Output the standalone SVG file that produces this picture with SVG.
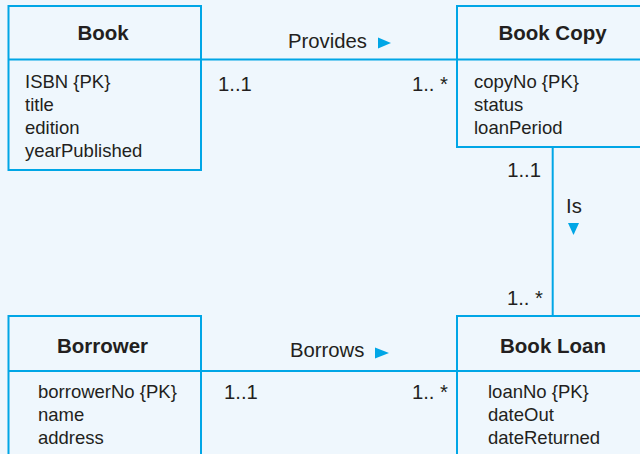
<svg xmlns="http://www.w3.org/2000/svg" width="640" height="454" viewBox="0 0 640 454">
<style>
.box{fill:#EFF7FD;stroke:#00A6E6;stroke-width:2}
.ln{stroke:#00A6E6;stroke-width:2;fill:none}
.t{font-family:"Liberation Sans",Arial,sans-serif;font-weight:bold;font-size:20.5px;fill:#231F20;text-anchor:middle}
.a{font-family:"Liberation Sans",Arial,sans-serif;font-size:18.5px;fill:#231F20}
.c{font-family:"Liberation Sans",Arial,sans-serif;font-size:20.3px;fill:#231F20}
.tri{fill:#00A6E6}
</style>
<rect width="640" height="454" fill="#EFF7FD"/>
<g id="connectors">
<line class="ln" x1="201" y1="59.5" x2="457" y2="59.5"/>
<line class="ln" x1="552.7" y1="147" x2="552.7" y2="316"/>
<line class="ln" x1="201" y1="371" x2="457" y2="371"/>
<text class="c" x="288" y="48">Provides</text>
<polygon class="tri" points="378,37.5 391,43 378,48.5"/>
<text class="c" x="218" y="91">1..1</text>
<text class="c" x="448" y="91" text-anchor="end">1.. *</text>
<text class="c" x="541" y="176.5" text-anchor="end">1..1</text>
<text class="c" x="566" y="212.5">Is</text>
<polygon class="tri" points="568,223 579,223 573.5,235"/>
<text class="c" x="543" y="305" text-anchor="end">1.. *</text>
<text class="c" x="290" y="357">Borrows</text>
<polygon class="tri" points="375,347.5 389,353 375,358.5"/>
<text class="c" x="224" y="399">1..1</text>
<text class="c" x="448" y="399" text-anchor="end">1.. *</text>
</g>
<g id="book">
<rect class="box" x="8.5" y="6" width="192.5" height="164"/>
<line class="ln" x1="8.5" y1="59.5" x2="201" y2="59.5"/>
<text class="t" x="103" y="40">Book</text>
<text class="a" x="25" y="88.3">ISBN {PK}</text>
<text class="a" x="25" y="111">title</text>
<text class="a" x="25" y="133.7">edition</text>
<text class="a" x="25" y="156.5">yearPublished</text>
</g>
<g id="bookcopy">
<rect class="box" x="457" y="6" width="200" height="141"/>
<line class="ln" x1="457" y1="59.5" x2="657" y2="59.5"/>
<text class="t" x="552.5" y="40">Book Copy</text>
<text class="a" x="474" y="88.3">copyNo {PK}</text>
<text class="a" x="474" y="111">status</text>
<text class="a" x="474" y="133.7">loanPeriod</text>
</g>
<g id="borrower">
<rect class="box" x="8.5" y="316" width="192.5" height="160"/>
<line class="ln" x1="8.5" y1="371" x2="201" y2="371"/>
<text class="t" x="102.5" y="352.7">Borrower</text>
<text class="a" x="38" y="398.3">borrowerNo {PK}</text>
<text class="a" x="38" y="421">name</text>
<text class="a" x="38" y="443.5">address</text>
</g>
<g id="bookloan">
<rect class="box" x="457" y="316" width="200" height="160"/>
<line class="ln" x1="457" y1="371" x2="657" y2="371"/>
<text class="t" x="553" y="352.7">Book Loan</text>
<text class="a" x="488" y="398.3">loanNo {PK}</text>
<text class="a" x="488" y="421">dateOut</text>
<text class="a" x="488" y="443.5">dateReturned</text>
</g>
</svg>
